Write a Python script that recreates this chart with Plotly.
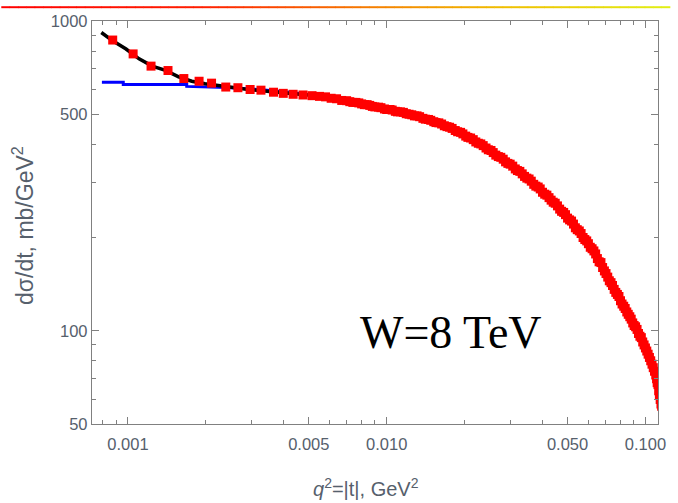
import plotly.graph_objects as go

# Measured differential cross-section, W = 8 TeV
t_data = [0.000873, 0.001047, 0.001228, 0.001428, 0.001644, 0.001883, 0.002104, 0.002388,
          0.00266, 0.002965, 0.003266, 0.003652, 0.003983, 0.004349, 0.004749, 0.005145,
          0.0055, 0.0058, 0.0061, 0.0064, 0.0067, 0.0070, 0.0072, 0.0074, 0.0076, 0.0078,
          0.0080, 0.0082, 0.0084, 0.0086, 0.0088, 0.0090, 0.0093, 0.0095, 0.0098, 0.0100,
          0.0103, 0.0105, 0.0108, 0.0110, 0.0113, 0.0116, 0.0119, 0.0122, 0.0125, 0.0128,
          0.0131, 0.0134, 0.0138, 0.0141, 0.0145, 0.0148, 0.0152, 0.0155, 0.0159, 0.0163,
          0.0167, 0.0171, 0.0175, 0.0179, 0.0184, 0.0188, 0.0193, 0.0197, 0.0202, 0.0206,
          0.0211, 0.0216, 0.0221, 0.0226, 0.0231, 0.0236, 0.0242, 0.0247, 0.0253, 0.0258,
          0.0264, 0.0270, 0.0276, 0.0282, 0.0288, 0.0294, 0.0300, 0.0307, 0.0314, 0.0320,
          0.0327, 0.0334, 0.0341, 0.0348, 0.0355, 0.0362, 0.0370, 0.0377, 0.0385, 0.0392,
          0.0400, 0.0408, 0.0416, 0.0424, 0.0432, 0.0440, 0.0448, 0.0457, 0.0466, 0.0474,
          0.0483, 0.0491, 0.0500, 0.0509, 0.0518, 0.0527, 0.0536, 0.0545, 0.0555, 0.0564,
          0.0574, 0.0583, 0.0593, 0.0602, 0.0612, 0.0622, 0.0632, 0.0642, 0.0652, 0.0662,
          0.0673, 0.0683, 0.0694, 0.0704, 0.0715, 0.0725, 0.0736, 0.0746, 0.0757, 0.0768,
          0.0779, 0.0790, 0.0801, 0.0812, 0.0824, 0.0835, 0.0847, 0.0858, 0.0870, 0.0881,
          0.0893, 0.0904, 0.0916, 0.0928, 0.0940, 0.0952, 0.0964, 0.0976, 0.0988, 0.1000,
          0.1012, 0.1024, 0.1036, 0.1048, 0.1060, 0.1072, 0.1084, 0.1096, 0.1104, 0.1110,
          0.1118, 0.1125, 0.1132, 0.1140, 0.1148, 0.1155]
dsdt_data = [868, 783, 715, 692, 652, 639, 630, 612,
             609, 601, 598, 589, 584, 580, 577, 574,
             571, 569, 563, 561, 554, 553, 549, 546, 546, 544,
             540, 537, 537, 534, 530, 528, 527, 525, 520, 518,
             518, 516, 511, 509, 509, 507, 502, 500, 498, 494,
             494, 491, 485, 482, 481, 478, 473, 470, 469, 465,
             459, 456, 454, 450, 443, 439, 437, 432, 425, 421,
             419, 414, 407, 403, 401, 396, 389, 384, 382, 376,
             369, 365, 363, 358, 351, 347, 345, 340, 333, 329,
             327, 321, 315, 311, 309, 304, 297, 293, 291, 287,
             280, 276, 274, 269, 264, 260, 258, 253, 247, 243,
             241, 237, 231, 228, 226, 221, 215, 212, 210, 206,
             200, 197, 195, 191, 186, 184, 181, 177, 171, 167,
             166, 160, 156, 153, 149, 145, 143, 140, 136, 133,
             131, 129, 125, 122, 120, 118, 115, 113, 111, 109,
             106, 104, 103, 101, 98, 96, 95, 92, 90, 88,
             86, 84, 82, 80, 78, 76, 74, 72, 70, 68,
             67, 64, 62, 60, 58, 57]

# Full model (Coulomb + nuclear)
t_full = [0.000789, 0.000873, 0.000983, 0.001104, 0.001241, 0.001397, 0.00157, 0.001765,
          0.001986, 0.002232, 0.002511, 0.002821, 0.003171, 0.003563, 0.004249, 0.00537,
          0.0070, 0.0094, 0.0126, 0.0168, 0.0213, 0.0261, 0.0330, 0.0406, 0.0483, 0.0560,
          0.0630, 0.0707, 0.0819, 0.0949, 0.1036, 0.1096, 0.1140]
dsdt_full = [918, 863, 812, 755, 715, 693, 660, 639,
             627, 621, 611, 603, 597, 590, 583, 574,
             552, 525, 497, 460, 416, 373, 323, 278, 240, 207,
             181, 151, 121, 97, 82, 72, 63]

# Nuclear part only (binned)
t_nucl = [0.000793, 0.000959, 0.000959, 0.001687, 0.001687, 0.0024, 0.0032, 0.0042,
          0.0054, 0.0070, 0.0094, 0.0126, 0.0168, 0.0213, 0.0261, 0.0330, 0.0406,
          0.0483, 0.0560, 0.0630, 0.0707, 0.0819, 0.0949, 0.1036, 0.1140]
dsdt_nucl = [634, 634, 624, 624, 615, 610, 601, 589,
             574, 552, 525, 497, 460, 416, 373, 323, 278,
             240, 207, 181, 151, 121, 97, 82, 63]

x_major = [0.001, 0.005, 0.01, 0.05, 0.1]
x_major_text = ["0.001", "0.005", "0.010", "0.050", "0.100"]
x_minor = [0.0008, 0.0009, 0.002, 0.003, 0.004, 0.006, 0.007, 0.008, 0.009,
           0.02, 0.03, 0.04, 0.06, 0.07, 0.08, 0.09]
y_major = [50, 100, 500, 1000]
y_major_text = ["50", "100", "500", "1000"]
y_minor = [60, 70, 80, 90, 200, 300, 400, 600, 700, 800, 900]

X_RANGE = [-3.139, -0.9515]
Y_RANGE = [1.69897, 3.0]

W, H = 678, 503
ML, MR, MT, MB = 92, 12, 15, 79
PW, PH = W - ML - MR, H - MT - MB

AXIS_GREY = "#808080"
LABEL_GREY = "#56606c"


def px_to_paper_x(px):
    return (px - ML) / PW


def px_to_paper_y(py):
    return (H - MB - py) / PH


fig = go.Figure()
fig.add_trace(go.Scatter(x=t_nucl, y=dsdt_nucl, mode="lines",
                         line=dict(color="#0000ff", width=3), showlegend=False))
fig.add_trace(go.Scatter(x=t_full, y=dsdt_full, mode="lines",
                         line=dict(color="#000000", width=3.5), showlegend=False))
fig.add_trace(go.Scatter(x=t_data, y=dsdt_data, mode="markers",
                         marker=dict(symbol="square", size=9, color="#ff0000",
                                     line=dict(width=0)),
                         showlegend=False))
# empty trace that carries the minor-tick axes
fig.add_trace(go.Scatter(x=[0.01], y=[100], xaxis="x2", yaxis="y2", mode="markers",
                         marker=dict(opacity=0), hoverinfo="skip", showlegend=False))

tick_font = dict(family="Liberation Sans, Arial, sans-serif", size=16.5, color=LABEL_GREY)
common = dict(type="log", ticks="inside", tickwidth=1.4, tickcolor=AXIS_GREY,
              showline=True, linecolor=AXIS_GREY, linewidth=1.4, mirror="allticks",
              showgrid=False, zeroline=False)

fig.update_layout(
    xaxis=dict(range=X_RANGE, tickmode="array", tickvals=x_major, ticktext=x_major_text,
               ticklen=7, tickfont=tick_font, ticklabelstandoff=5, **common),
    yaxis=dict(range=Y_RANGE, tickmode="array", tickvals=y_major, ticktext=y_major_text,
               ticklen=7, tickfont=tick_font, **common),
    xaxis2=dict(range=X_RANGE, tickmode="array", tickvals=x_minor, ticklen=4,
                showticklabels=False, overlaying="x", anchor="y2", **common),
    yaxis2=dict(range=Y_RANGE, tickmode="array", tickvals=y_minor, ticklen=4,
                showticklabels=False, overlaying="y", anchor="x2", **common),
)

annotations = [
    dict(text="d\u03c3/dt, mb/GeV<sup>2</sup>", textangle=-90, showarrow=False,
         xref="paper", yref="paper", x=px_to_paper_x(22), y=px_to_paper_y(222),
         xanchor="center", yanchor="middle",
         font=dict(family="Liberation Sans, Arial, sans-serif", size=23, color=LABEL_GREY)),
    dict(text="<i>q</i><sup>2</sup>=|t|, GeV<sup>2</sup>", showarrow=False,
         xref="paper", yref="paper", x=px_to_paper_x(370), y=px_to_paper_y(488),
         xanchor="center", yanchor="middle",
         font=dict(family="Liberation Sans, Arial, sans-serif", size=20, color=LABEL_GREY)),
    dict(text="W=8 TeV", showarrow=False, xref="paper", yref="paper",
         x=px_to_paper_x(456), y=px_to_paper_y(331), xanchor="center", yanchor="middle",
         font=dict(family="Liberation Serif, Times New Roman, serif", size=46, color="#000000")),
]

# Header rule: red-to-yellow gradient strip along the top edge
stops = [(0.0, (255, 0, 0)), (0.3, (255, 30, 0)), (0.55, (245, 125, 0)),
         (0.75, (240, 190, 0)), (1.0, (225, 240, 20))]


def grad_color(f):
    for (f0, c0), (f1, c1) in zip(stops[:-1], stops[1:]):
        if f <= f1:
            k = (f - f0) / (f1 - f0)
            return "rgb(%d,%d,%d)" % tuple(round(a + (b - a) * k) for a, b in zip(c0, c1))
    return "rgb(%d,%d,%d)" % stops[-1][1]


shapes = []
n_seg = 80
for i in range(n_seg):
    x0 = i * W / n_seg
    x1 = (i + 1) * W / n_seg + 0.5
    shapes.append(dict(type="rect", xref="paper", yref="paper",
                       x0=px_to_paper_x(x0), x1=px_to_paper_x(x1),
                       y0=px_to_paper_y(2), y1=px_to_paper_y(0),
                       fillcolor=grad_color((i + 0.5) / n_seg), line=dict(width=0),
                       layer="above"))

fig.update_layout(width=W, height=H, margin=dict(l=ML, r=MR, t=MT, b=MB),
                  plot_bgcolor="white", paper_bgcolor="white",
                  annotations=annotations, shapes=shapes)

fig.write_html("out.html")
